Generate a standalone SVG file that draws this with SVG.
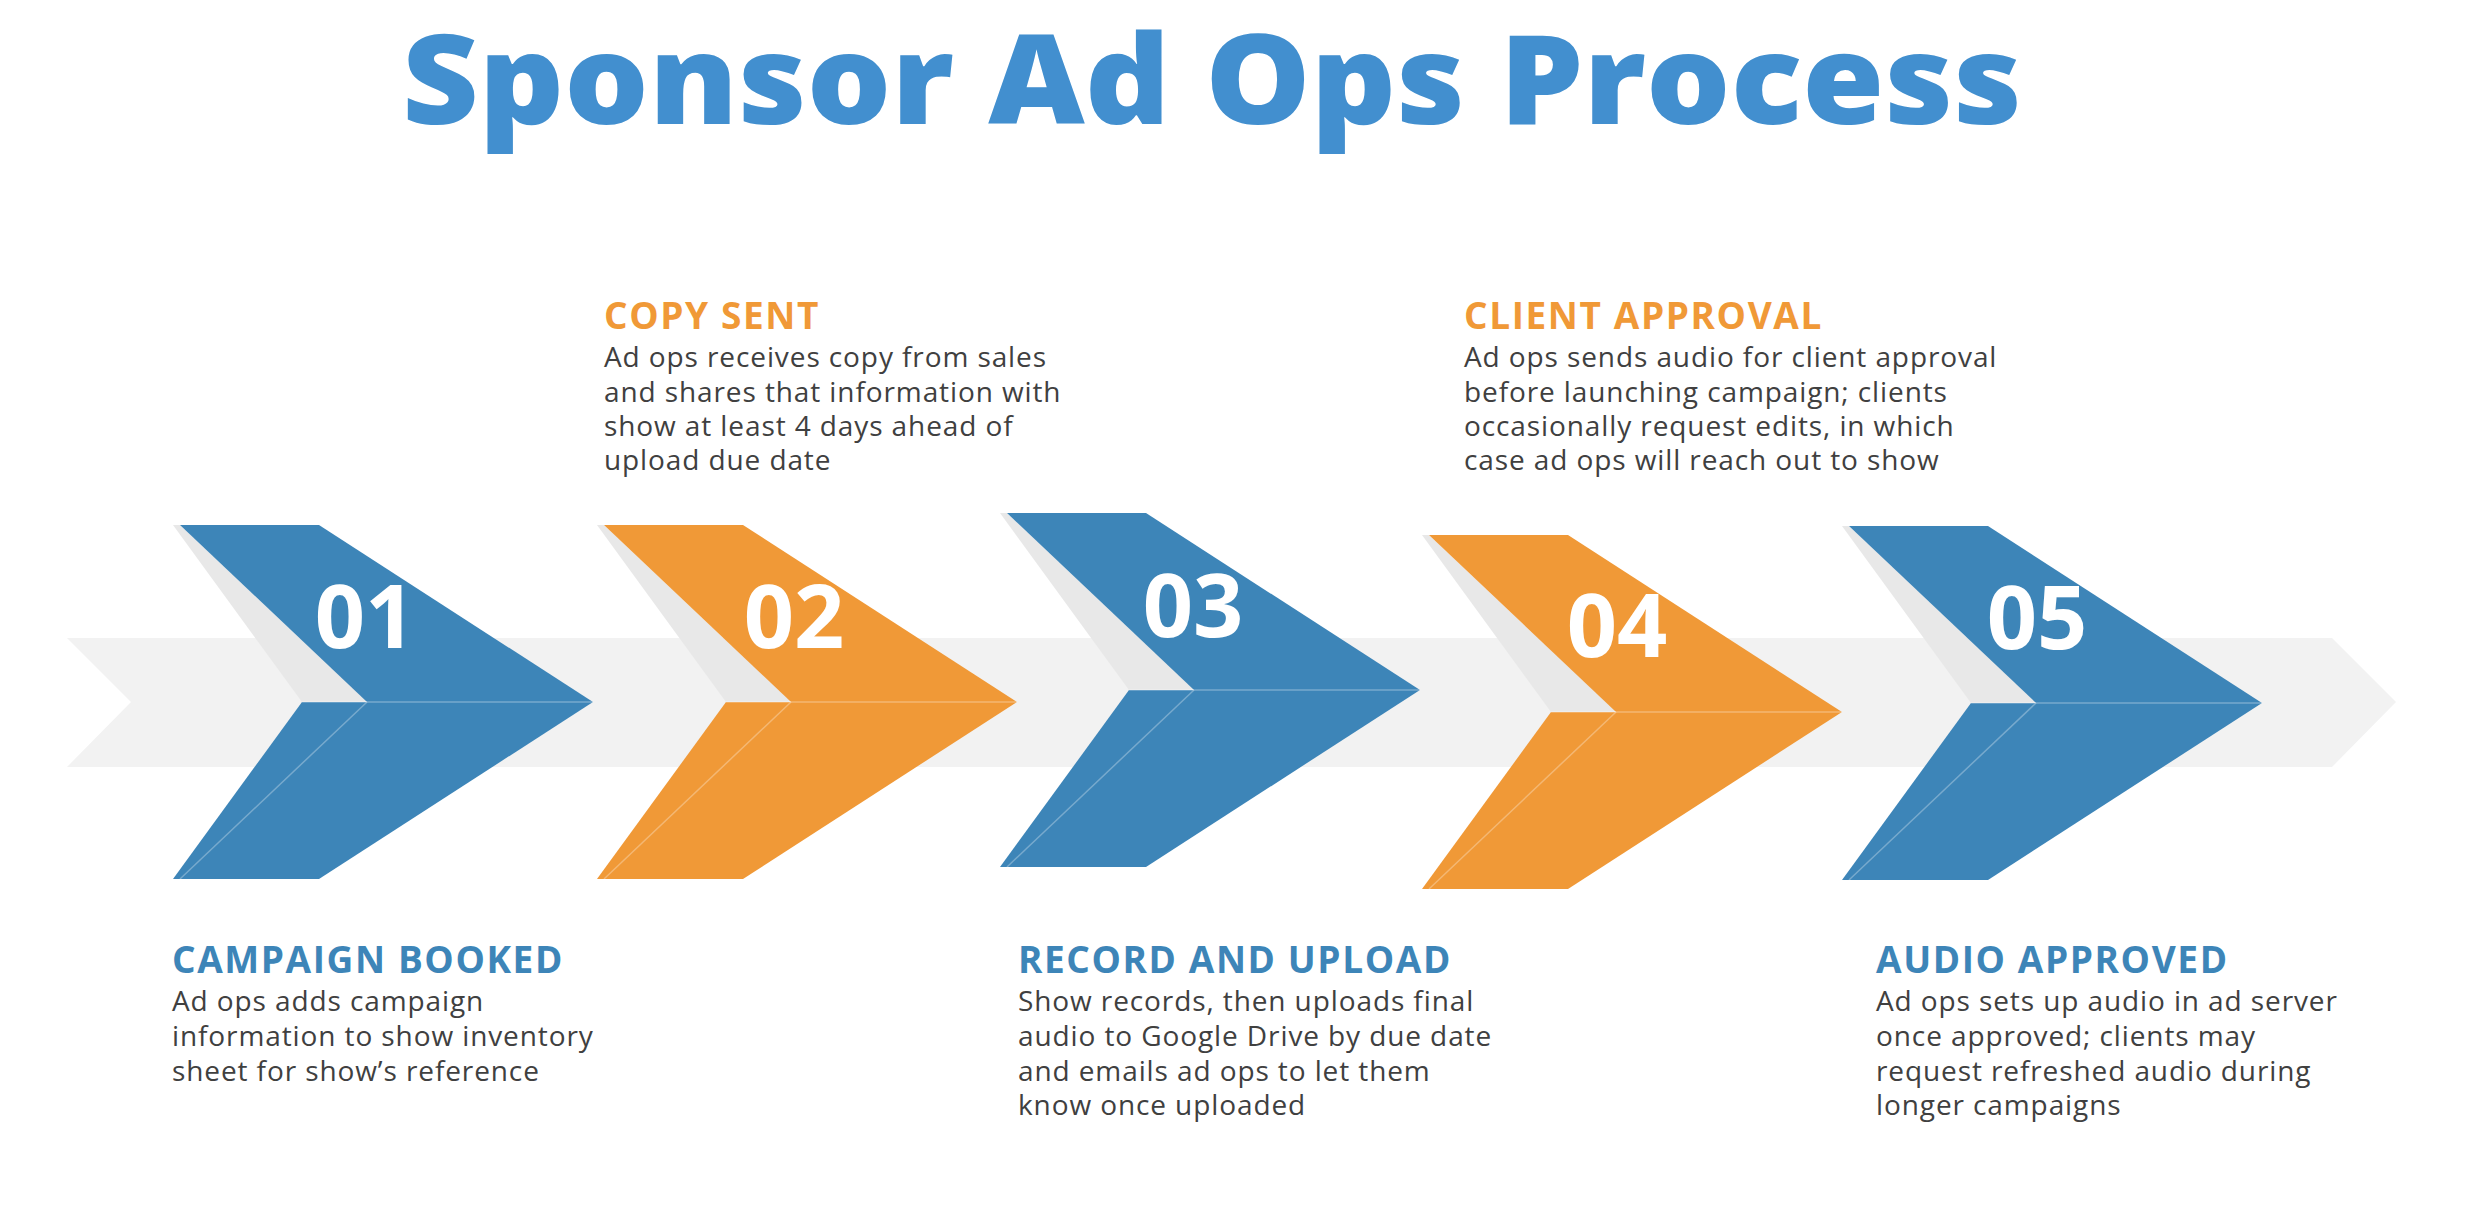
<svg xmlns="http://www.w3.org/2000/svg" width="2474" height="1220" viewBox="0 0 2474 1220">
<style>
.title{font-family:"Open Sans","Liberation Sans",sans-serif;font-weight:800;font-size:124px;fill:#428fcf;}
.num{font-family:"Open Sans","Liberation Sans",sans-serif;font-weight:700;font-size:88px;fill:#fff;text-anchor:middle;}
.hb{font-family:"Open Sans","Liberation Sans",sans-serif;font-weight:700;font-size:37px;letter-spacing:1.6px;fill:#3d85b8;}
.ho{font-family:"Open Sans","Liberation Sans",sans-serif;font-weight:700;font-size:37px;letter-spacing:1.6px;fill:#f09937;}
.body{font-family:"Open Sans","Liberation Sans",sans-serif;font-size:28px;letter-spacing:0.9px;fill:#404040;}
.sh{fill:#e8e8e8;}
.b{fill:#3d85b8;}
.o{fill:#f09937;}
.ln{fill:none;stroke:#ffffff;stroke-opacity:0.3;stroke-width:1.5;}
</style>
<defs>
<g id="chev">
<polygon class="sh" points="-7,0 0,0 187,177 122,177"/>
<polygon points="0,0 139,0 413,177 187,177"/>
<polygon points="122,177 413,177 139,354 -7,354"/>
<line class="ln" x1="187" y1="177" x2="0" y2="354"/>
<line class="ln" x1="122" y1="177" x2="413" y2="177"/>
</g>
</defs>
<rect width="2474" height="1220" fill="#fff"/>
<text class="title" x="1212" y="124" text-anchor="middle" textLength="1620" lengthAdjust="spacingAndGlyphs">Sponsor Ad Ops Process</text>
<g id="band"><polygon fill="#f2f2f2" points="67,638 2332,638 2396,702 2332,767 67,767 131,702"/></g>
<g id="step1" class="b"><use href="#chev" x="180" y="525"/><text class="num" x="365" y="648">01</text></g>
<g id="step2" class="o"><use href="#chev" x="604" y="525"/><text class="num" x="794" y="648">02</text></g>
<g id="step3" class="b"><use href="#chev" x="1007" y="513"/><text class="num" x="1193" y="637">03</text></g>
<g id="step4" class="o"><use href="#chev" x="1429" y="535"/><text class="num" x="1617" y="657">04</text></g>
<g id="step5" class="b"><use href="#chev" x="1849" y="526"/><text class="num" x="2037" y="649">05</text></g>
<g id="connectors"></g>
<g id="label2"><text class="ho" x="604" y="329">COPY SENT</text>
<text class="body"><tspan x="604" y="367">Ad ops receives copy from sales</tspan><tspan x="604" y="402">and shares that information with</tspan><tspan x="604" y="436">show at least 4 days ahead of</tspan><tspan x="604" y="470">upload due date</tspan></text></g>
<g id="label4"><text class="ho" x="1464" y="329">CLIENT APPROVAL</text>
<text class="body"><tspan x="1464" y="367">Ad ops sends audio for client approval</tspan><tspan x="1464" y="402">before launching campaign; clients</tspan><tspan x="1464" y="436">occasionally request edits, in which</tspan><tspan x="1464" y="470">case ad ops will reach out to show</tspan></text></g>
<g id="label1"><text class="hb" x="172" y="973">CAMPAIGN BOOKED</text>
<text class="body"><tspan x="172" y="1011">Ad ops adds campaign</tspan><tspan x="172" y="1046">information to show inventory</tspan><tspan x="172" y="1081">sheet for show’s reference</tspan></text></g>
<g id="label3"><text class="hb" x="1018" y="973">RECORD AND UPLOAD</text>
<text class="body"><tspan x="1018" y="1011">Show records, then uploads final</tspan><tspan x="1018" y="1046">audio to Google Drive by due date</tspan><tspan x="1018" y="1081">and emails ad ops to let them</tspan><tspan x="1018" y="1115">know once uploaded</tspan></text></g>
<g id="label5"><text class="hb" x="1876" y="973">AUDIO APPROVED</text>
<text class="body"><tspan x="1876" y="1011">Ad ops sets up audio in ad server</tspan><tspan x="1876" y="1046">once approved; clients may</tspan><tspan x="1876" y="1081">request refreshed audio during</tspan><tspan x="1876" y="1115">longer campaigns</tspan></text></g>
</svg>
